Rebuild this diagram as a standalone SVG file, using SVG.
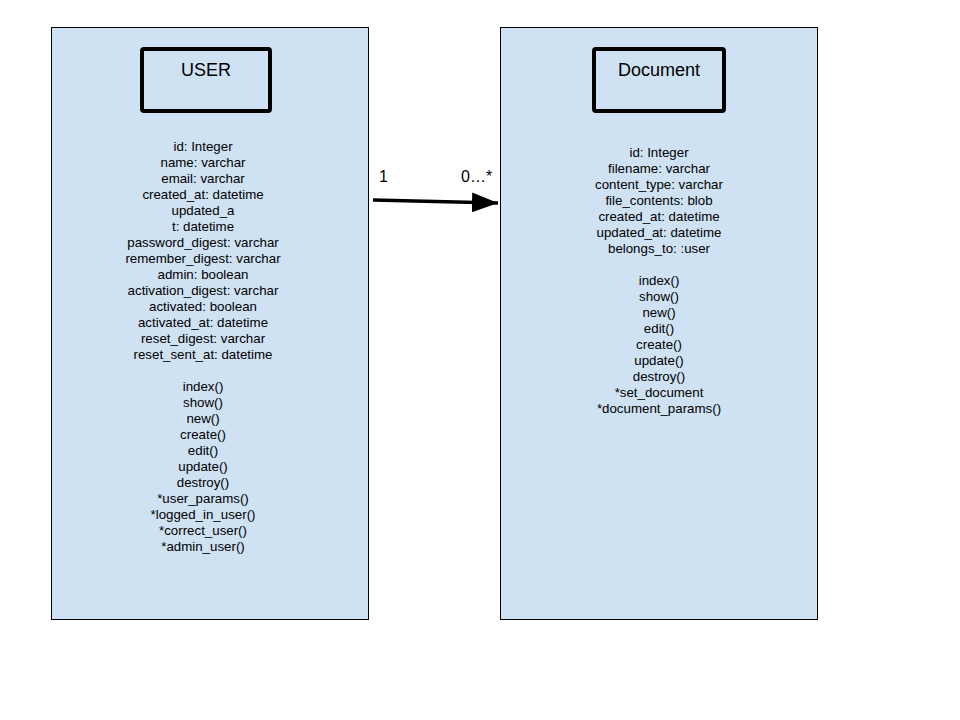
<svg xmlns="http://www.w3.org/2000/svg" width="960" height="720" viewBox="0 0 960 720">
<defs>
<style>
.outer{fill:#cfe2f3;stroke:#000;stroke-width:1}
.title{fill:none;stroke:#000;stroke-width:4}
.t{font-family:"Liberation Sans",Arial,sans-serif;font-size:13.3px;fill:#000;text-anchor:middle}
.h{font-family:"Liberation Sans",Arial,sans-serif;font-size:18px;fill:#000;text-anchor:middle}
.lbl{font-family:"Liberation Sans",Arial,sans-serif;font-size:16px;fill:#000}
.conn{stroke:#000;stroke-width:3.5;fill:none}
</style>
<marker id="arrow" markerUnits="userSpaceOnUse" viewBox="0 0 26 20" refX="26" refY="10" markerWidth="26" markerHeight="20" orient="auto">
<path d="M0,0 L26,10 L0,20 Z" fill="#000"/>
</marker>
</defs>
<rect width="960" height="720" fill="#fff"/>
<g id="user">
<rect class="outer" x="51.5" y="27.5" width="317" height="592"/>
<rect class="title" x="142" y="49" width="128" height="62" rx="2"/>
<text class="h" x="206" y="76">USER</text>
<text class="t" x="203" y="151">id: Integer</text>
<text class="t" x="203" y="167">name: varchar</text>
<text class="t" x="203" y="183">email: varchar</text>
<text class="t" x="203" y="199">created_at: datetime</text>
<text class="t" x="203" y="215">updated_a</text>
<text class="t" x="203" y="231">t: datetime</text>
<text class="t" x="203" y="247">password_digest: varchar</text>
<text class="t" x="203" y="263">remember_digest: varchar</text>
<text class="t" x="203" y="279">admin: boolean</text>
<text class="t" x="203" y="295">activation_digest: varchar</text>
<text class="t" x="203" y="311">activated: boolean</text>
<text class="t" x="203" y="327">activated_at: datetime</text>
<text class="t" x="203" y="343">reset_digest: varchar</text>
<text class="t" x="203" y="359">reset_sent_at: datetime</text>
<text class="t" x="203" y="391">index()</text>
<text class="t" x="203" y="407">show()</text>
<text class="t" x="203" y="423">new()</text>
<text class="t" x="203" y="439">create()</text>
<text class="t" x="203" y="455">edit()</text>
<text class="t" x="203" y="471">update()</text>
<text class="t" x="203" y="487">destroy()</text>
<text class="t" x="203" y="503">*user_params()</text>
<text class="t" x="203" y="519">*logged_in_user()</text>
<text class="t" x="203" y="535">*correct_user()</text>
<text class="t" x="203" y="551">*admin_user()</text>
</g>
<g id="document">
<rect class="outer" x="500.5" y="27.5" width="317" height="592"/>
<rect class="title" x="594" y="49" width="130" height="62" rx="2"/>
<text class="h" x="659" y="76">Document</text>
<text class="t" x="659" y="157">id: Integer</text>
<text class="t" x="659" y="173">filename: varchar</text>
<text class="t" x="659" y="189">content_type: varchar</text>
<text class="t" x="659" y="205">file_contents: blob</text>
<text class="t" x="659" y="221">created_at: datetime</text>
<text class="t" x="659" y="237">updated_at: datetime</text>
<text class="t" x="659" y="253">belongs_to: :user</text>
<text class="t" x="659" y="285">index()</text>
<text class="t" x="659" y="301">show()</text>
<text class="t" x="659" y="317">new()</text>
<text class="t" x="659" y="333">edit()</text>
<text class="t" x="659" y="349">create()</text>
<text class="t" x="659" y="365">update()</text>
<text class="t" x="659" y="381">destroy()</text>
<text class="t" x="659" y="397">*set_document</text>
<text class="t" x="659" y="413">*document_params()</text>
</g>
<g id="connectors">
<path class="conn" d="M373,200 L498,203" marker-end="url(#arrow)"/>
<text class="lbl" x="379" y="182">1</text>
<text class="lbl" x="461" y="182">0…*</text>
</g>
</svg>
